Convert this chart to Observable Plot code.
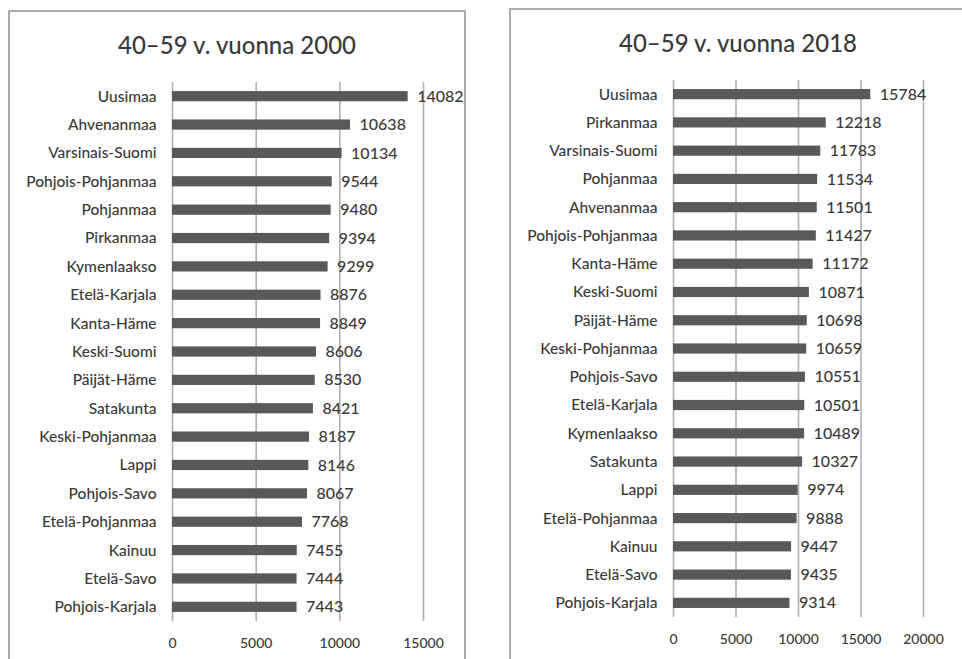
<!DOCTYPE html>
<html>
<head>
<meta charset="utf-8">
<script src="https://cdn.jsdelivr.net/npm/d3@7"></script>
<script src="https://cdn.jsdelivr.net/npm/@observablehq/plot@0.6"></script>
<style>
  html, body { margin: 0; padding: 0; background: #fff; }
  body { width: 962px; height: 659px; position: relative; overflow: hidden; font-family: Lato, "Open Sans", sans-serif; }
  .panel { position: absolute; border: 2px solid #ababab; box-sizing: border-box; }
  .title { position: absolute; font-size: 24px; color: #3a3a3a; text-align: center; white-space: nowrap; font-weight: 500; }
  .chart { position: absolute; }
</style>
</head>
<body>
<div class="panel" style="left:8px; top:10px; width:458px; height:720px;"></div>
<div class="panel" style="left:509px; top:8px; width:520px; height:720px;"></div>
<div class="title" style="left:8px; width:458px; top:30px;">40–59 v. vuonna 2000</div>
<div class="title" style="left:509px; width:458px; top:28px;">40–59 v. vuonna 2018</div>
<div id="c1" class="chart" style="left:8px; top:60px;"></div>
<div id="c2" class="chart" style="left:510px; top:60px;"></div>
<script>
const regions2000 = ["Uusimaa","Ahvenanmaa","Varsinais-Suomi","Pohjois-Pohjanmaa","Pohjanmaa","Pirkanmaa","Kymenlaakso","Etelä-Karjala","Kanta-Häme","Keski-Suomi","Päijät-Häme","Satakunta","Keski-Pohjanmaa","Lappi","Pohjois-Savo","Etelä-Pohjanmaa","Kainuu","Etelä-Savo","Pohjois-Karjala"];
const values2000 = [14082,10638,10134,9544,9480,9394,9299,8876,8849,8606,8530,8421,8187,8146,8067,7768,7455,7444,7443];
const ticks2000 = [0,5000,10000,15000];

const regions2018 = ["Uusimaa","Pirkanmaa","Varsinais-Suomi","Pohjanmaa","Ahvenanmaa","Pohjois-Pohjanmaa","Kanta-Häme","Keski-Suomi","Päijät-Häme","Keski-Pohjanmaa","Pohjois-Savo","Etelä-Karjala","Kymenlaakso","Satakunta","Lappi","Etelä-Pohjanmaa","Kainuu","Etelä-Savo","Pohjois-Karjala"];
const values2018 = [15784,12218,11783,11534,11501,11427,11172,10871,10698,10659,10551,10501,10489,10327,9974,9888,9447,9435,9314];
const ticks2018 = [0,5000,10000,15000,20000];

const BAR = "#595959";
const GRID = "#b0b0b0";
const TEXT = "#3a3a3a";
const FONT = "Lato, 'Open Sans', sans-serif";

function makeChart(regions, values, ticks, opts) {
  const data = regions.map((r, i) => ({region: r, value: values[i]}));
  return Plot.plot({
    width: opts.width,
    height: opts.height,
    marginLeft: opts.ml,
    marginRight: opts.mr,
    marginTop: opts.mt,
    marginBottom: opts.mb,
    style: {fontFamily: FONT, fontSize: "15px", color: TEXT, background: "transparent", overflow: "visible", fontWeight: 500},
    x: {domain: [0, ticks[ticks.length - 1]], ticks: ticks, label: null},
    y: {domain: regions, paddingInner: 0.64, paddingOuter: 0.32, round: false, label: null},
    marks: [
      Plot.ruleX(ticks, {stroke: GRID, strokeWidth: 1.6, strokeOpacity: 1}),
      Plot.barX(data, {x: "value", y: "region", fill: BAR}),
      Plot.text(data, {x: "value", y: "region", text: d => String(d.value), textAnchor: "start", dx: 9, fill: TEXT, fontSize: 16, fontWeight: 500}),
      Plot.axisX({ticks: ticks, tickSize: 0, tickPadding: 17, tickFormat: d => String(d), fontSize: 14, fill: TEXT, label: null}),
      Plot.axisY({tickSize: 0, tickPadding: 16, fontSize: 15.5, fill: TEXT, label: null})
    ]
  });
}

document.getElementById("c1").appendChild(makeChart(regions2000, values2000, ticks2000, {width: 458, height: 599, ml: 164, mr: 43, mt: 22, mb: 38}));
document.getElementById("c2").appendChild(makeChart(regions2018, values2018, ticks2018, {width: 452, height: 599, ml: 163, mr: 39, mt: 20, mb: 42}));
</script>
</body>
</html>
